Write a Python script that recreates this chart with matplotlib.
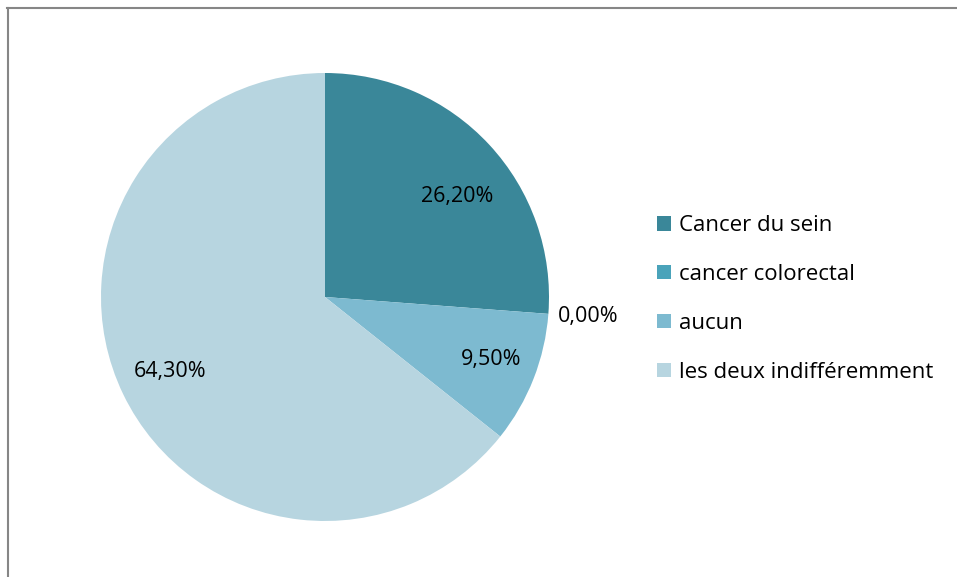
import matplotlib
matplotlib.use("Agg")
from matplotlib import pyplot as plt
from matplotlib.lines import Line2D
import numpy as np

plt.rcParams['font.family'] = ['Open Sans', 'DejaVu Sans']

labels = ['Cancer du sein', 'cancer colorectal', 'aucun', 'les deux indifféremment']
values = [26.2, 0.0, 9.5, 64.3]
colors = ['#3A8799', '#4AA3BA', '#7DBAD0', '#B7D5E0']

W, H = 957, 577
fig = plt.figure(figsize=(W / 100, H / 100), dpi=100)

# pie area: centre (325, 297), radius 224 px
ax = fig.add_axes([101 / W, 56 / H, 448 / W, 448 / H])
wedges, texts, autotexts = ax.pie(
    values, colors=colors, startangle=90, counterclock=False,
    autopct=lambda p: f"{p:.2f}%".replace('.', ','), pctdistance=0.77,
    textprops=dict(fontsize=15.5, color='black'),
    wedgeprops=dict(linewidth=0))
ax.set_xlim(-1, 1)
ax.set_ylim(-1, 1)
ax.set_aspect('equal')

# the empty slice gets its label outside the pie
for w, t, v in zip(wedges, autotexts, values):
    if v == 0:
        a = np.deg2rad((w.theta1 + w.theta2) / 2)
        t.set_position((1.18 * np.cos(a), 1.18 * np.sin(a)))
# small nudges so labels sit like in the original
x, y = autotexts[0].get_position()
autotexts[0].set_position((x + 0.025, y - 0.075))
x, y = autotexts[2].get_position()
autotexts[2].set_position((x + 0.025, y))

fig.legend(wedges, labels, loc='center left',
           bbox_to_anchor=(637 / W, 1 - 299 / H), frameon=False,
           fontsize=16, handlelength=0.62, handleheight=0.62,
           handletextpad=0.35, labelspacing=1.25)

# frame: only the top and left edges are visible
fig.add_artist(Line2D([7 / W, 1], [1 - 8 / H, 1 - 8 / H], color='#868686', lw=1.5))
fig.add_artist(Line2D([8 / W, 8 / W], [0, 1 - 8 / H], color='#868686', lw=1.5))

fig.savefig('out.png', dpi=100)
